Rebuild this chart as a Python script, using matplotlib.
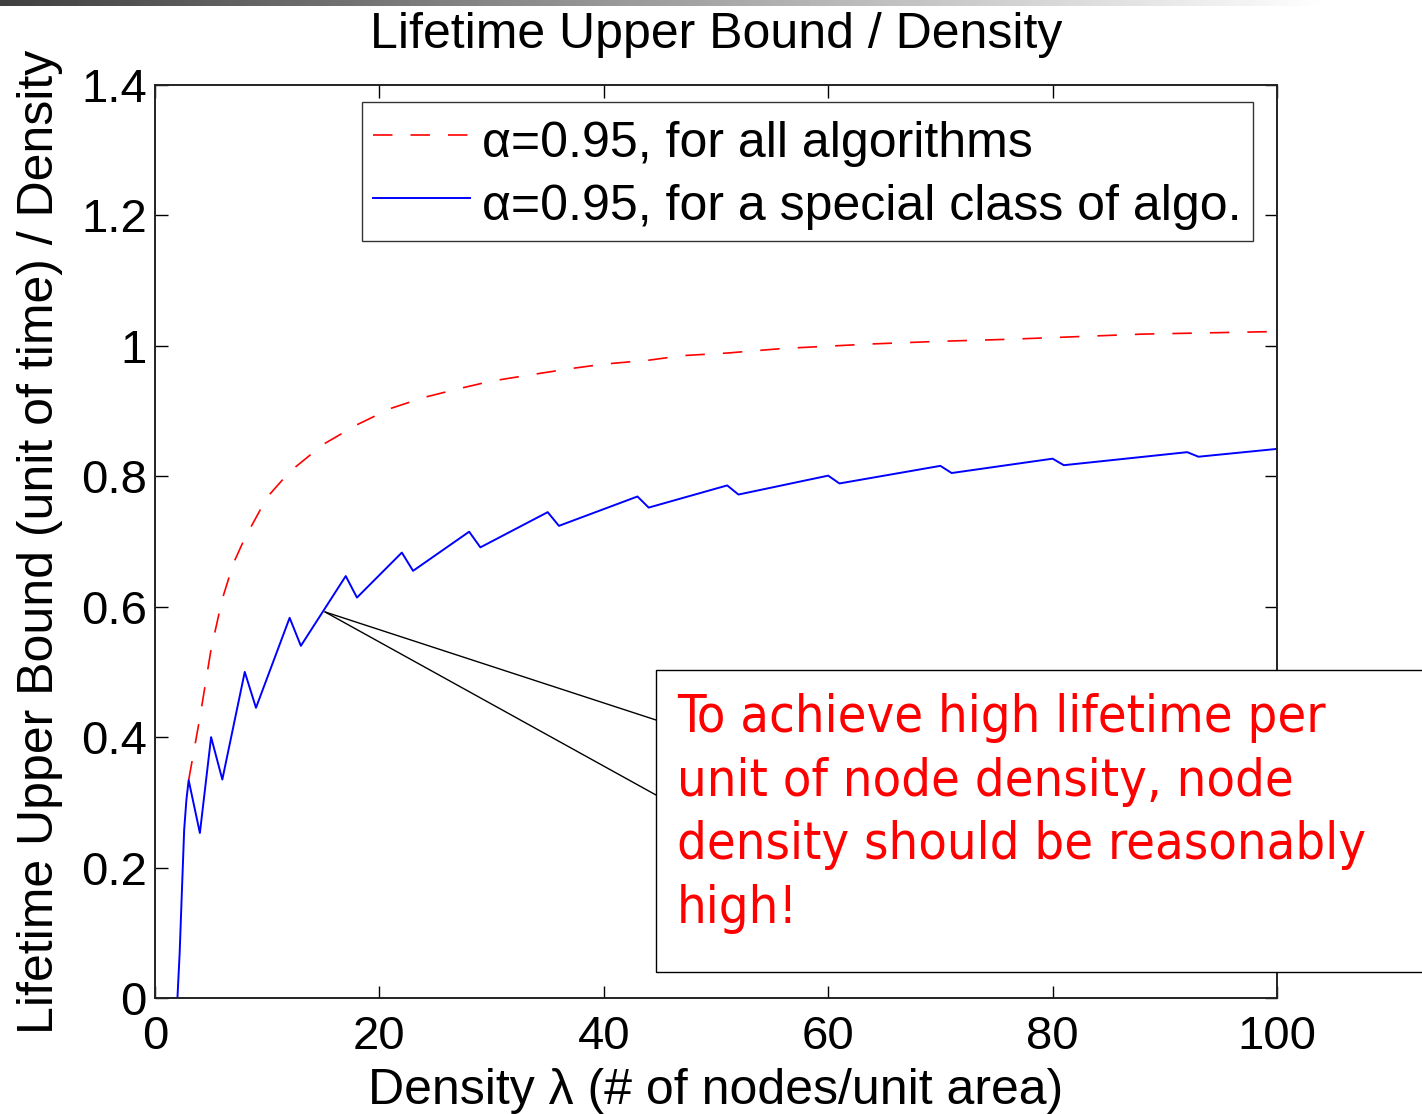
import numpy as np
import matplotlib
matplotlib.use("Agg")
import matplotlib.pyplot as plt
from matplotlib.patches import Rectangle

# values
red_x = [3, 4, 5, 6, 7, 8, 10, 12, 15, 18, 21, 24, 27, 30, 34, 37, 40, 44,
         47, 51, 56, 64, 70, 76, 82, 88, 94, 100]
red_y = [0.334, 0.43, 0.535, 0.612, 0.667, 0.705, 0.768, 0.807, 0.849, 0.879,
         0.904, 0.921, 0.934, 0.946, 0.957, 0.965, 0.972, 0.978, 0.985, 0.989,
         0.996, 1.003, 1.007, 1.010, 1.014, 1.018, 1.020, 1.022]

blue_x = [1, 2, 2.2, 2.4, 2.6, 2.8, 3, 4, 5, 6, 8, 9, 12, 13, 17, 18, 22, 23,
          28, 29, 35, 36, 43, 44, 51, 52, 60, 61, 70, 71, 80, 81, 92, 93, 100]
blue_y = [0, 0, 0.07, 0.165, 0.258, 0.304, 0.334, 0.253, 0.40, 0.335, 0.50,
          0.445, 0.583, 0.540, 0.647, 0.614, 0.683, 0.655, 0.715, 0.691, 0.745,
          0.724, 0.769, 0.752, 0.786, 0.772, 0.801, 0.789, 0.816, 0.805, 0.827,
          0.817, 0.837, 0.830, 0.842]

x_ticks = [0, 20, 40, 60, 80, 100]
y_ticks = [0, 0.2, 0.4, 0.6, 0.8, 1.0, 1.2, 1.4]
y_tick_labels = ["0", "0.2", "0.4", "0.6", "0.8", "1", "1.2", "1.4"]

red_label = "α=0.95, for all algorithms"
blue_label = "α=0.95, for a special class of algo."
note = ("To achieve high lifetime per\nunit of node density, node\n"
        "density should be reasonably\nhigh!")

plt.rcParams['font.family'] = ['Liberation Sans', 'DejaVu Sans']
plt.rcParams['lines.scale_dashes'] = False

W, H = 1422, 1114
fig = plt.figure(figsize=(W / 100, H / 100), dpi=100)
ax = fig.add_axes([155 / W, 1 - 998 / H, 1122 / W, 913 / H])

ax.plot(red_x, red_y, color='#ff0000', lw=1.2, dashes=(14, 13), label=red_label)
ax.plot(blue_x, blue_y, color='#0000ff', lw=1.4, label=blue_label)

ax.set_xlim(0, 100)
ax.set_ylim(0, 1.4)
ax.set_xticks(x_ticks)
ax.set_yticks(y_ticks)
ax.set_yticklabels(y_tick_labels)
ax.tick_params(direction='in', length=9, width=1.0, top=True, right=True,
               labelsize=34, colors='black')
ax.tick_params(axis='x', pad=12)
ax.tick_params(axis='y', pad=6)
for s in ax.spines.values():
    s.set_linewidth(1.4)
    s.set_color('#222222')

ax.set_title("Lifetime Upper Bound / Density", fontsize=36, pad=27)
ax.set_xlabel("Density λ (# of nodes/unit area)", fontsize=36, labelpad=7)
ax.set_ylabel("Lifetime Upper Bound (unit of time) / Density", fontsize=36,
              labelpad=13)

leg = ax.legend(loc='upper right', bbox_to_anchor=(0.9786, 0.981),
                fontsize=36, frameon=True, fancybox=False, handlelength=1.95,
                handletextpad=0.24, borderpad=0.22, labelspacing=0.18,
                handleheight=1.28, borderaxespad=0)
leg.get_frame().set_edgecolor('black')
leg.get_frame().set_linewidth(1.0)

# callout box with the note
fig.patches.append(Rectangle((656 / W, 1 - 972 / H), 900 / W, 302 / H,
                             transform=fig.transFigure, facecolor='white',
                             edgecolor='black', lw=1.0, zorder=5))
for py in [720, 795]:
    ax.annotate('', xy=(15.15, 0.592), xycoords='data',
                xytext=(656 / W, 1 - py / H), textcoords='figure fraction',
                arrowprops=dict(arrowstyle='-', color='black', lw=1.0,
                                shrinkA=0, shrinkB=0))
fig.text(677 / W, 1 - 693 / H, note, color='#ff0000', fontsize=37.5,
         family='DejaVu Sans', fontstretch='condensed', va='top', ha='left',
         linespacing=1.35, zorder=6)

# slide header bar
bar = fig.add_axes([0, 1 - 6 / H, 1330 / W, 6 / H])
bar.imshow(np.linspace(0.25, 1.0, 256)[None, :], cmap='gray', aspect='auto',
           vmin=0, vmax=1)
bar.axis('off')

fig.savefig('out.png', dpi=100)
